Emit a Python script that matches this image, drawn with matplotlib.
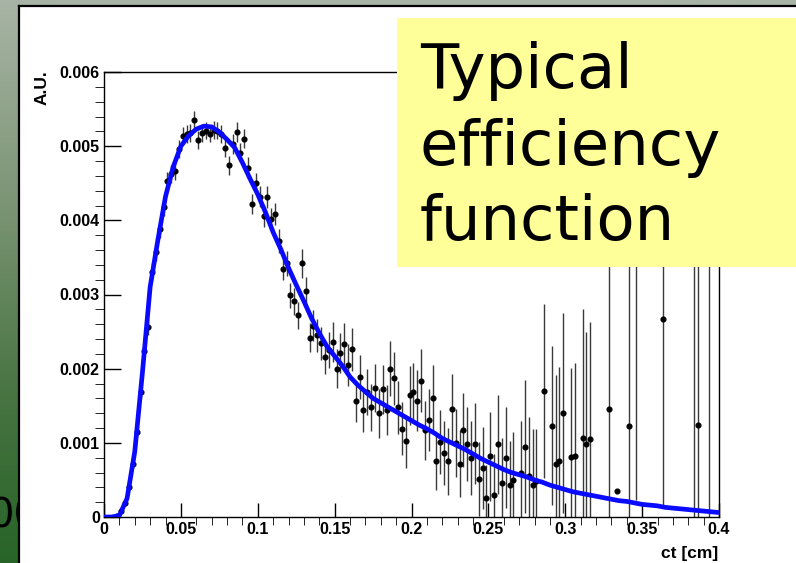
import numpy as np
import matplotlib.pyplot as plt
from matplotlib.patches import Rectangle
from matplotlib.lines import Line2D

nan = np.nan

# ct distribution, 160 bins of 0.0025 cm on [0, 0.4] (nan = empty bin)
counts = [nan, nan, nan, 0.00002, 0.00008, 0.00019, 0.00041, 0.00072, 0.00115, 0.00168,
          0.00224, 0.00256, 0.00330, 0.00357, 0.00388, 0.00418, 0.00453, 0.00462, 0.00467, 0.00496,
          0.00514, 0.00516, 0.00518, 0.00535, 0.00508, 0.00518, 0.00521, 0.00517, 0.00522, 0.00521,
          0.00516, 0.00498, 0.00474, 0.00503, 0.00519, 0.00491, 0.00510, 0.00471, 0.00422, 0.00450,
          0.00432, 0.00406, 0.00431, 0.00402, 0.00409, 0.00372, 0.00335, 0.00342, 0.00299, 0.00291,
          0.00272, 0.00342, 0.00305, 0.00242, 0.00258, 0.00245, 0.00234, 0.00216, 0.00225, 0.00236,
          0.00200, 0.00221, 0.00233, 0.00205, 0.00226, 0.00156, 0.00189, 0.00144, 0.00169, 0.00148,
          0.00174, 0.00140, 0.00172, 0.00144, 0.00200, 0.00187, 0.00148, 0.00119, 0.00102, 0.00164,
          0.00168, 0.00157, 0.00184, 0.00117, 0.00131, 0.00160, 0.00075, 0.00101, 0.00086, 0.00075,
          0.00146, 0.00100, 0.00072, 0.00117, 0.00098, 0.00080, 0.00099, 0.00051, 0.00066, 0.00025,
          0.00082, 0.00030, 0.00098, 0.00046, 0.00080, 0.00043, 0.00050, nan, 0.00060, 0.00095,
          0.00055, 0.00043, 0.00048, nan, 0.00170, nan, 0.00123, 0.00072, 0.00075, 0.00140,
          nan, 0.00081, 0.00082, nan, 0.00106, 0.00099, 0.00105, nan, nan, nan,
          nan, 0.00146, nan, 0.00035, nan, nan, 0.00123, nan, 0.00420, nan,
          nan, nan, nan, nan, nan, 0.00267, nan, nan, nan, nan,
          nan, nan, nan, 0.00480, 0.00124, nan, nan, 0.00460, nan, nan]

errors = [nan, nan, nan, 0.00002, 0.00003, 0.00004, 0.00005, 0.00006, 0.00007, 0.00008,
          0.00009, 0.00011, 0.00012, 0.00012, 0.00012, 0.00012, 0.00012, 0.00012, 0.00012, 0.00012,
          0.00012, 0.00012, 0.00012, 0.00013, 0.00012, 0.00012, 0.00012, 0.00012, 0.00012, 0.00012,
          0.00012, 0.00013, 0.00013, 0.00013, 0.00013, 0.00013, 0.00013, 0.00014, 0.00014, 0.00014,
          0.00014, 0.00015, 0.00015, 0.00015, 0.00015, 0.00016, 0.00016, 0.00017, 0.00017, 0.00018,
          0.00018, 0.00020, 0.00019, 0.00020, 0.00021, 0.00022, 0.00022, 0.00023, 0.00024, 0.00027,
          0.00026, 0.00027, 0.00028, 0.00028, 0.00029, 0.00028, 0.00030, 0.00030, 0.00031, 0.00032,
          0.00032, 0.00033, 0.00033, 0.00034, 0.00037, 0.00036, 0.00036, 0.00036, 0.00036, 0.00040,
          0.00040, 0.00041, 0.00042, 0.00040, 0.00042, 0.00045, 0.00038, 0.00043, 0.00043, 0.00045,
          0.00047, 0.00046, 0.00045, 0.00050, 0.00050, 0.00050, 0.00055, 0.00050, 0.00055, 0.00045,
          0.00060, 0.00055, 0.00067, 0.00060, 0.00068, 0.00060, 0.00065, nan, 0.00070, 0.00090,
          0.00080, 0.00075, 0.00070, nan, 0.00117, nan, 0.00107, 0.00120, 0.00127, 0.00135,
          nan, 0.00120, 0.00125, nan, 0.00175, 0.00150, 0.00158, nan, nan, nan,
          nan, 0.00220, nan, 0.0, nan, nan, 0.00240, nan, 0.00397, nan,
          nan, nan, nan, nan, nan, 0.00253, nan, nan, nan, nan,
          nan, nan, nan, 0.00490, 0.00250, nan, nan, 0.00470, nan, nan]

# efficiency function fit, sampled every 0.005 cm from 0 to 0.4
fit_y = [0.0, 0.0, 0.00002, 0.00025, 0.00088, 0.00195, 0.00310, 0.00373, 0.00432, 0.00472,
         0.00500, 0.00514, 0.00523, 0.00527, 0.00526, 0.00519, 0.00509, 0.00498, 0.00478, 0.00456,
         0.00435, 0.00411, 0.00384, 0.00361, 0.00336, 0.00313, 0.00291, 0.00268, 0.00248, 0.00230,
         0.00217, 0.00204, 0.00189, 0.00178, 0.00169, 0.00160, 0.00154, 0.00148, 0.00142, 0.00136,
         0.00130, 0.00124, 0.00119, 0.00113, 0.00106, 0.00101, 0.00096, 0.00091, 0.00085, 0.00079,
         0.00074, 0.00069, 0.00064, 0.00060, 0.00057, 0.00054, 0.00050, 0.00047, 0.00043, 0.00040,
         0.00037, 0.00034, 0.00032, 0.00030, 0.00028, 0.00026, 0.00024, 0.00022, 0.00021, 0.00019,
         0.00017, 0.00016, 0.00015, 0.00013, 0.00012, 0.00011, 0.00010, 0.00009, 0.00008, 0.00007,
         0.00006]

x_ticks = [0, 0.05, 0.1, 0.15, 0.2, 0.25, 0.3, 0.35, 0.4]
x_labels = ['0', '0.05', '0.1', '0.15', '0.2', '0.25', '0.3', '0.35', '0.4']
y_ticks = [0, 0.001, 0.002, 0.003, 0.004, 0.005, 0.006]
y_labels = ['0', '0.001', '0.002', '0.003', '0.004', '0.005', '0.006']

W, H = 796, 563
fig = plt.figure(figsize=(W / 100, H / 100), dpi=100)

# slide background: green vertical gradient
bg = fig.add_axes([0, 0, 1, 1], zorder=-10)
stops = np.array([[168, 180, 165], [125, 150, 118], [72, 116, 66], [40, 100, 40]]) / 255
t = np.linspace(0, 1, 256)
grad = np.stack([np.interp(t, [0, 0.35, 0.7, 1], stops[:, c]) for c in range(3)], axis=-1)
bg.imshow(grad[:, None, :], aspect='auto', extent=[0, 1, 0, 1])
bg.set_xlim(0, 1)
bg.set_ylim(0, 1)
bg.axis('off')
bg.text(-12 / W, 1 - 527 / H, '00', fontsize=29, color='black', va='baseline', ha='left')

# white panel with black border
px0, py1 = 19 / W, 1 - 6 / H
fig.patches.append(Rectangle((px0, 0), 1 - px0, py1, transform=fig.transFigure,
                             facecolor='white', edgecolor='none', zorder=-5))
fig.lines.append(Line2D([px0, px0], [0, py1], transform=fig.transFigure,
                        color='black', lw=1.6, zorder=-4))
fig.lines.append(Line2D([px0, 1], [py1, py1], transform=fig.transFigure,
                        color='black', lw=1.6, zorder=-4))

ax = fig.add_axes([104 / W, 1 - 517 / H, 615 / W, 445 / H])

edges = np.linspace(0, 0.4, len(counts) + 1)
centers = 0.5 * (edges[:-1] + edges[1:])
vals = np.array(counts)
errs = np.array(errors)
ok = ~np.isnan(vals)
ax.errorbar(centers[ok], vals[ok], yerr=errs[ok], fmt='o', color='black', ms=3.4,
            ecolor='#3a3a3a', elinewidth=1.0, capsize=0, zorder=2)

fit_x = np.linspace(0, 0.4, len(fit_y))
ax.plot(fit_x, fit_y, color='#0a0aff', lw=3.4, solid_capstyle='butt', zorder=3)

ax.set_xlim(0, 0.4)
ax.set_ylim(0, 0.006)
for s in ax.spines.values():
    s.set_linewidth(1.0)

tick_font = dict(family='Liberation Sans', weight='bold', size=11.5)
ax.set_xticks(x_ticks)
ax.set_xticklabels(x_labels, **tick_font)
ax.set_yticks(y_ticks)
ax.set_yticklabels(y_labels, **tick_font)
ax.set_xticks(np.arange(0, 0.4001, 0.01), minor=True)
ax.set_yticks(np.arange(0, 0.00601, 0.0002), minor=True)
ax.tick_params(direction='in', top=False, right=False, width=1.0, colors='black')
ax.tick_params(axis='y', which='major', length=12, pad=3)
ax.tick_params(axis='y', which='minor', length=6.5)
ax.tick_params(axis='x', which='major', length=10, pad=3.5)
ax.tick_params(axis='x', which='minor', length=5.5)

fig.text(42 / W, 1 - 70 / H, 'A.U.', rotation=90, ha='center', va='top',
         family='Liberation Sans', weight='bold', size=12.5)
fig.text(718 / W, 1 - 561 / H, 'ct [cm]', ha='right', va='bottom',
         family='Liberation Sans', weight='bold', size=12.5)

# yellow note box
bx0, by0, by1 = 397 / W, 1 - 267 / H, 1 - 18 / H
fig.patches.append(Rectangle((bx0, by0), 1 - bx0, by1 - by0, transform=fig.transFigure,
                             facecolor='#ffff99', edgecolor='none', zorder=5))
for line, base in zip(['Typical', 'efficiency', 'function'], [88, 165, 240]):
    fig.text(420 / W, 1 - base / H, line, ha='left', va='baseline', fontsize=45,
             family='DejaVu Sans', color='black', zorder=6)

fig.savefig('out.png', dpi=100)
